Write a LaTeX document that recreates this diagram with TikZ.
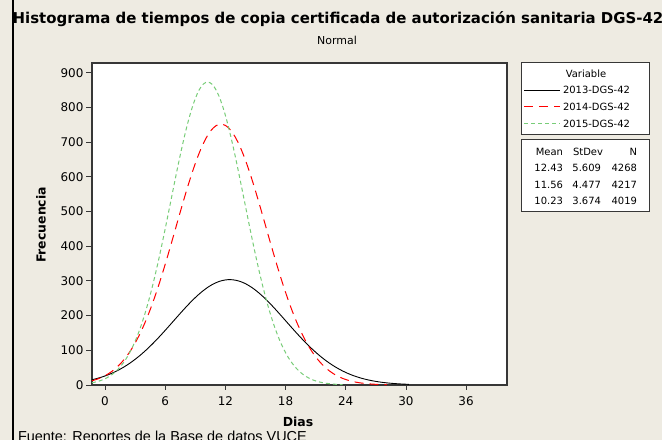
\documentclass[tikz,border=0pt]{standalone}
\usepackage{fontspec}
\setmainfont{DejaVu Sans}
\newfontfamily\arialfont{Liberation Sans}
\usetikzlibrary{positioning}
\definecolor{paper}{RGB}{238,235,226}
\definecolor{curvegreen}{RGB}{120,205,120}
\definecolor{framegray}{RGB}{55,55,55}

\begin{document}
\begin{tikzpicture}[x=1bp,y=1bp,every node/.style={inner sep=0pt,outer sep=0pt},
        frame/.style={draw=framegray,line width=1.2bp,fill=white},
        tick/.style={draw=framegray,line width=0.8bp},
        ticklabel/.style={font=\fontsize{12}{13}\selectfont},
        legtext/.style={text=black,font=\fontsize{10}{11}\selectfont},
        c13/.style={black,line width=0.9bp},
        c14/.style={red,line width=1bp,dash pattern=on 9bp off 6bp},
        c15/.style={curvegreen,line width=1bp,dash pattern=on 4bp off 3bp}]

        % Background
        \fill[paper] (0,0) rectangle (662,440);
        \useasboundingbox (0,0) rectangle (662,440);
        \clip (0,0) rectangle (662,440);
        \draw[line width=1.3bp] (13,0) -- (13,440);

        % Titles
        \node[font=\bfseries\fontsize{15}{16}\selectfont] (title) at (338,421)
            {Histograma de tiempos de copia certificada de autorización sanitaria DGS-42};
        \node[font=\fontsize{11}{12}\selectfont] (subtitle) at (337,400) {Normal};

        % Plot area
        \node[frame,minimum width=415bp,minimum height=322bp,anchor=south west] (plot) at (92,55) {};

        \begin{scope}[shift={(105,55)},x=10.03bp,y=0.347bp]
          % Ticks
          \foreach \d in {0,6,...,36}
            \draw[tick] (\d,0) -- ++(0,-5bp) node[below=7bp,ticklabel] (xl\d) {\d};
          \foreach \f in {0,100,...,900}
            \draw[tick] (-1.3,\f) -- ++(-6bp,0) node[left=2.5bp,ticklabel] (yl\f) {\f};
          % Curves
          \draw[c13] plot[domain=-1.3:30.3,samples=120] (\x,{4268/(5.609*2.50663)*exp(-0.5*((\x-12.43)/5.609)^2)});
          \draw[c14] plot[domain=-1.3:28.1,samples=120] (\x,{8434/(4.477*2.50663)*exp(-0.5*((\x-11.56)/4.477)^2)});
          \draw[c15] plot[domain=-1.3:23.7,samples=120] (\x,{8038/(3.674*2.50663)*exp(-0.5*((\x-10.23)/3.674)^2)});
        \end{scope}

        % Axis labels
        \node[font=\bfseries\fontsize{12.5}{13}\selectfont] (xlab) at (298,18) {Dias};
        \node[rotate=90,font=\bfseries\fontsize{12.5}{13}\selectfont] (ylab) at (41,215) {Frecuencia};

        % Legend
        \node[frame,line width=1bp,minimum width=128bp,minimum height=72bp,anchor=north west] (varbox) at (521.5,377) {};
        \node[frame,line width=1bp,minimum width=128bp,minimum height=72bp,anchor=north west] (statbox) at (521.5,300) {};
        \node[legtext] (vartitle) at (586,366) {Variable};
        \draw[c13] (524,350) -- (560,350) node[right=3bp,legtext] (v13) {2013-DGS-42};
        \draw[c14] (524,333) -- (560,333) node[right=3bp,legtext] (v14) {2014-DGS-42};
        \draw[c15] (524,316) -- (560,316) node[right=3bp,legtext] (v15) {2015-DGS-42};

        % Stats
        \node[legtext,anchor=east] (hmean) at (563,288) {Mean};
        \node[legtext,anchor=east] (hsd) at (603,288) {StDev};
        \node[legtext,anchor=east] (hn) at (637,288) {N};
        \node[legtext,anchor=east] (m13) at (563,272) {12.43};
        \node[legtext,anchor=east] (s13) at (601,272) {5.609};
        \node[legtext,anchor=east] (n13) at (637,272) {4268};
        \node[legtext,anchor=east] (m14) at (563,255) {11.56};
        \node[legtext,anchor=east] (s14) at (601,255) {4.477};
        \node[legtext,anchor=east] (n14) at (637,255) {4217};
        \node[legtext,anchor=east] (m15) at (563,239) {10.23};
        \node[legtext,anchor=east] (s15) at (601,239) {3.674};
        \node[legtext,anchor=east] (n15) at (637,239) {4019};

        % Source
        \node[anchor=base west,font=\arialfont\fontsize{14.5}{15}\selectfont] (fuente) at (18,-2)
            {Fuente: Reportes de la Base de datos VUCE};
\end{tikzpicture}
\end{document}
